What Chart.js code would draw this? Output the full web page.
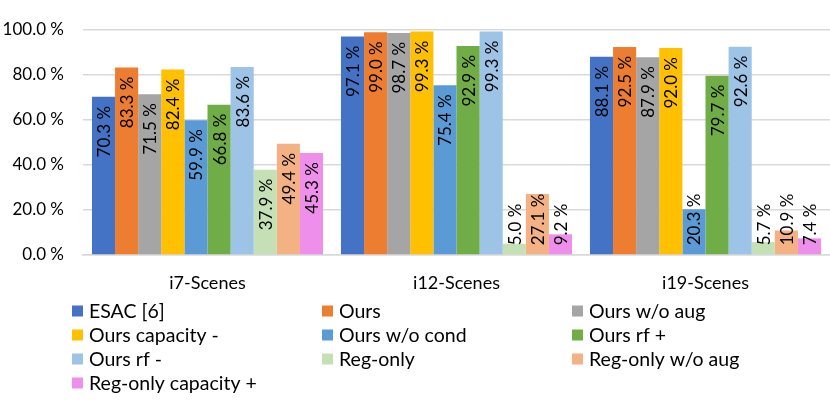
<!DOCTYPE html>
<html>
<head>
<meta charset="utf-8">
<script src="https://cdn.jsdelivr.net/npm/chart.js@4.4.1/dist/chart.umd.min.js"></script>
<style>
  html,body{margin:0;padding:0;background:#fff;}
  #wrap{width:830px;height:419px;}
</style>
</head>
<body>
<div id="wrap"><canvas id="bar-chart" width="830" height="419"></canvas></div>
<script>
var categorias = ["i7-Scenes", "i12-Scenes", "i19-Scenes"];
var series = ["ESAC [6]", "Ours", "Ours w/o aug", "Ours capacity -", "Ours w/o cond",
              "Ours rf +", "Ours rf -", "Reg-only", "Reg-only w/o aug", "Reg-only capacity +"];
var colores = ["#4472C4", "#ED7D31", "#A5A5A5", "#FFC000", "#5B9BD5",
               "#70AD47", "#9DC3E6", "#C5E0B4", "#F4B183", "#EE8FEC"];
// valores por serie: [i7, i12, i19]
var esac        = [70.3, 97.1, 88.1];
var ours        = [83.3, 99.0, 92.5];
var oursNoAug   = [71.5, 98.7, 87.9];
var oursCapMen  = [82.4, 99.3, 92.0];
var oursNoCond  = [59.9, 75.4, 20.3];
var oursRfMas   = [66.8, 92.9, 79.7];
var oursRfMen   = [83.6, 99.3, 92.6];
var regOnly     = [37.9, 5.0, 5.7];
var regNoAug    = [49.4, 27.1, 10.9];
var regCapMas   = [45.3, 9.2, 7.4];
var yTicks = [0, 20, 40, 60, 80, 100];

var valores = [esac, ours, oursNoAug, oursCapMen, oursNoCond, oursRfMas, oursRfMen, regOnly, regNoAug, regCapMas];
var fuente = "Lato, 'DejaVu Sans', sans-serif";

var datasets = [];
for (var i = 0; i < series.length; i++) {
  datasets.push({
    label: series[i],
    data: valores[i],
    backgroundColor: colores[i],
    borderWidth: 0,
    categoryPercentage: 0.928,
    barPercentage: 1.0
  });
}

// etiquetas verticales dentro de la barra
var etiquetas = {
  id: 'etiquetas',
  afterDatasetsDraw: function (chart) {
    var ctx = chart.ctx;
    ctx.save();
    ctx.font = "17px " + fuente;
    ctx.fillStyle = "#000";
    ctx.textAlign = "left";
    ctx.textBaseline = "middle";
    chart.data.datasets.forEach(function (ds, d) {
      var meta = chart.getDatasetMeta(d);
      meta.data.forEach(function (el, j) {
        var txt = ds.data[j].toFixed(1) + " %";
        var w = ctx.measureText(txt).width;
        var ini = el.y + 9 + w;
        if (ini > el.base - 9) ini = el.base - 9;
        ctx.save();
        ctx.translate(el.x, ini);
        ctx.rotate(-Math.PI / 2);
        ctx.fillText(txt, 0, 1);
        ctx.restore();
      });
    });
    ctx.restore();
  }
};

// leyenda en 3 columnas
var leyenda = {
  id: 'leyenda',
  afterDraw: function (chart) {
    var ctx = chart.ctx;
    ctx.save();
    ctx.font = "19.5px " + fuente;
    ctx.textAlign = "left";
    ctx.textBaseline = "middle";
    chart.data.datasets.forEach(function (ds, i) {
      var col = i % 3, fila = Math.floor(i / 3);
      var x = 72 + col * 250;
      var y = 311 + fila * 24;
      ctx.fillStyle = ds.backgroundColor;
      ctx.fillRect(x, y - 5.5, 11, 11);
      ctx.fillStyle = "#000";
      ctx.fillText(ds.label, x + 17, y + 1);
    });
    ctx.restore();
  }
};

var barra = new Chart(document.getElementById("bar-chart"), {
  type: 'bar',
  data: { labels: categorias, datasets: datasets },
  options: {
    responsive: false,
    animation: false,
    devicePixelRatio: 1,
    layout: { padding: { top: 30, right: 0, bottom: 0, left: 0 } },
    plugins: {
      legend: { display: false },
      tooltip: { enabled: false },
      title: { display: false }
    },
    scales: {
      x: {
        grid: { display: false, drawTicks: false },
        border: { display: true, color: "#d9d9d9", width: 1.5 },
        ticks: { color: "#000", font: { family: fuente, size: 18 }, padding: 17 },
        afterFit: function (s) { s.height = 164; }
      },
      y: {
        min: 0,
        max: 100,
        afterBuildTicks: function (s) { s.ticks = yTicks.map(function (v) { return { value: v }; }); },
        grid: { color: "#d9d9d9", lineWidth: 1.5, drawTicks: false },
        border: { display: false },
        ticks: {
          color: "#000",
          font: { family: fuente, size: 17 },
          padding: 19,
          callback: function (v) { return v.toFixed(1) + " %"; }
        },
        afterFit: function (s) { s.width = 83; }
      }
    }
  },
  plugins: [etiquetas, leyenda]
});
</script>
</body>
</html>
